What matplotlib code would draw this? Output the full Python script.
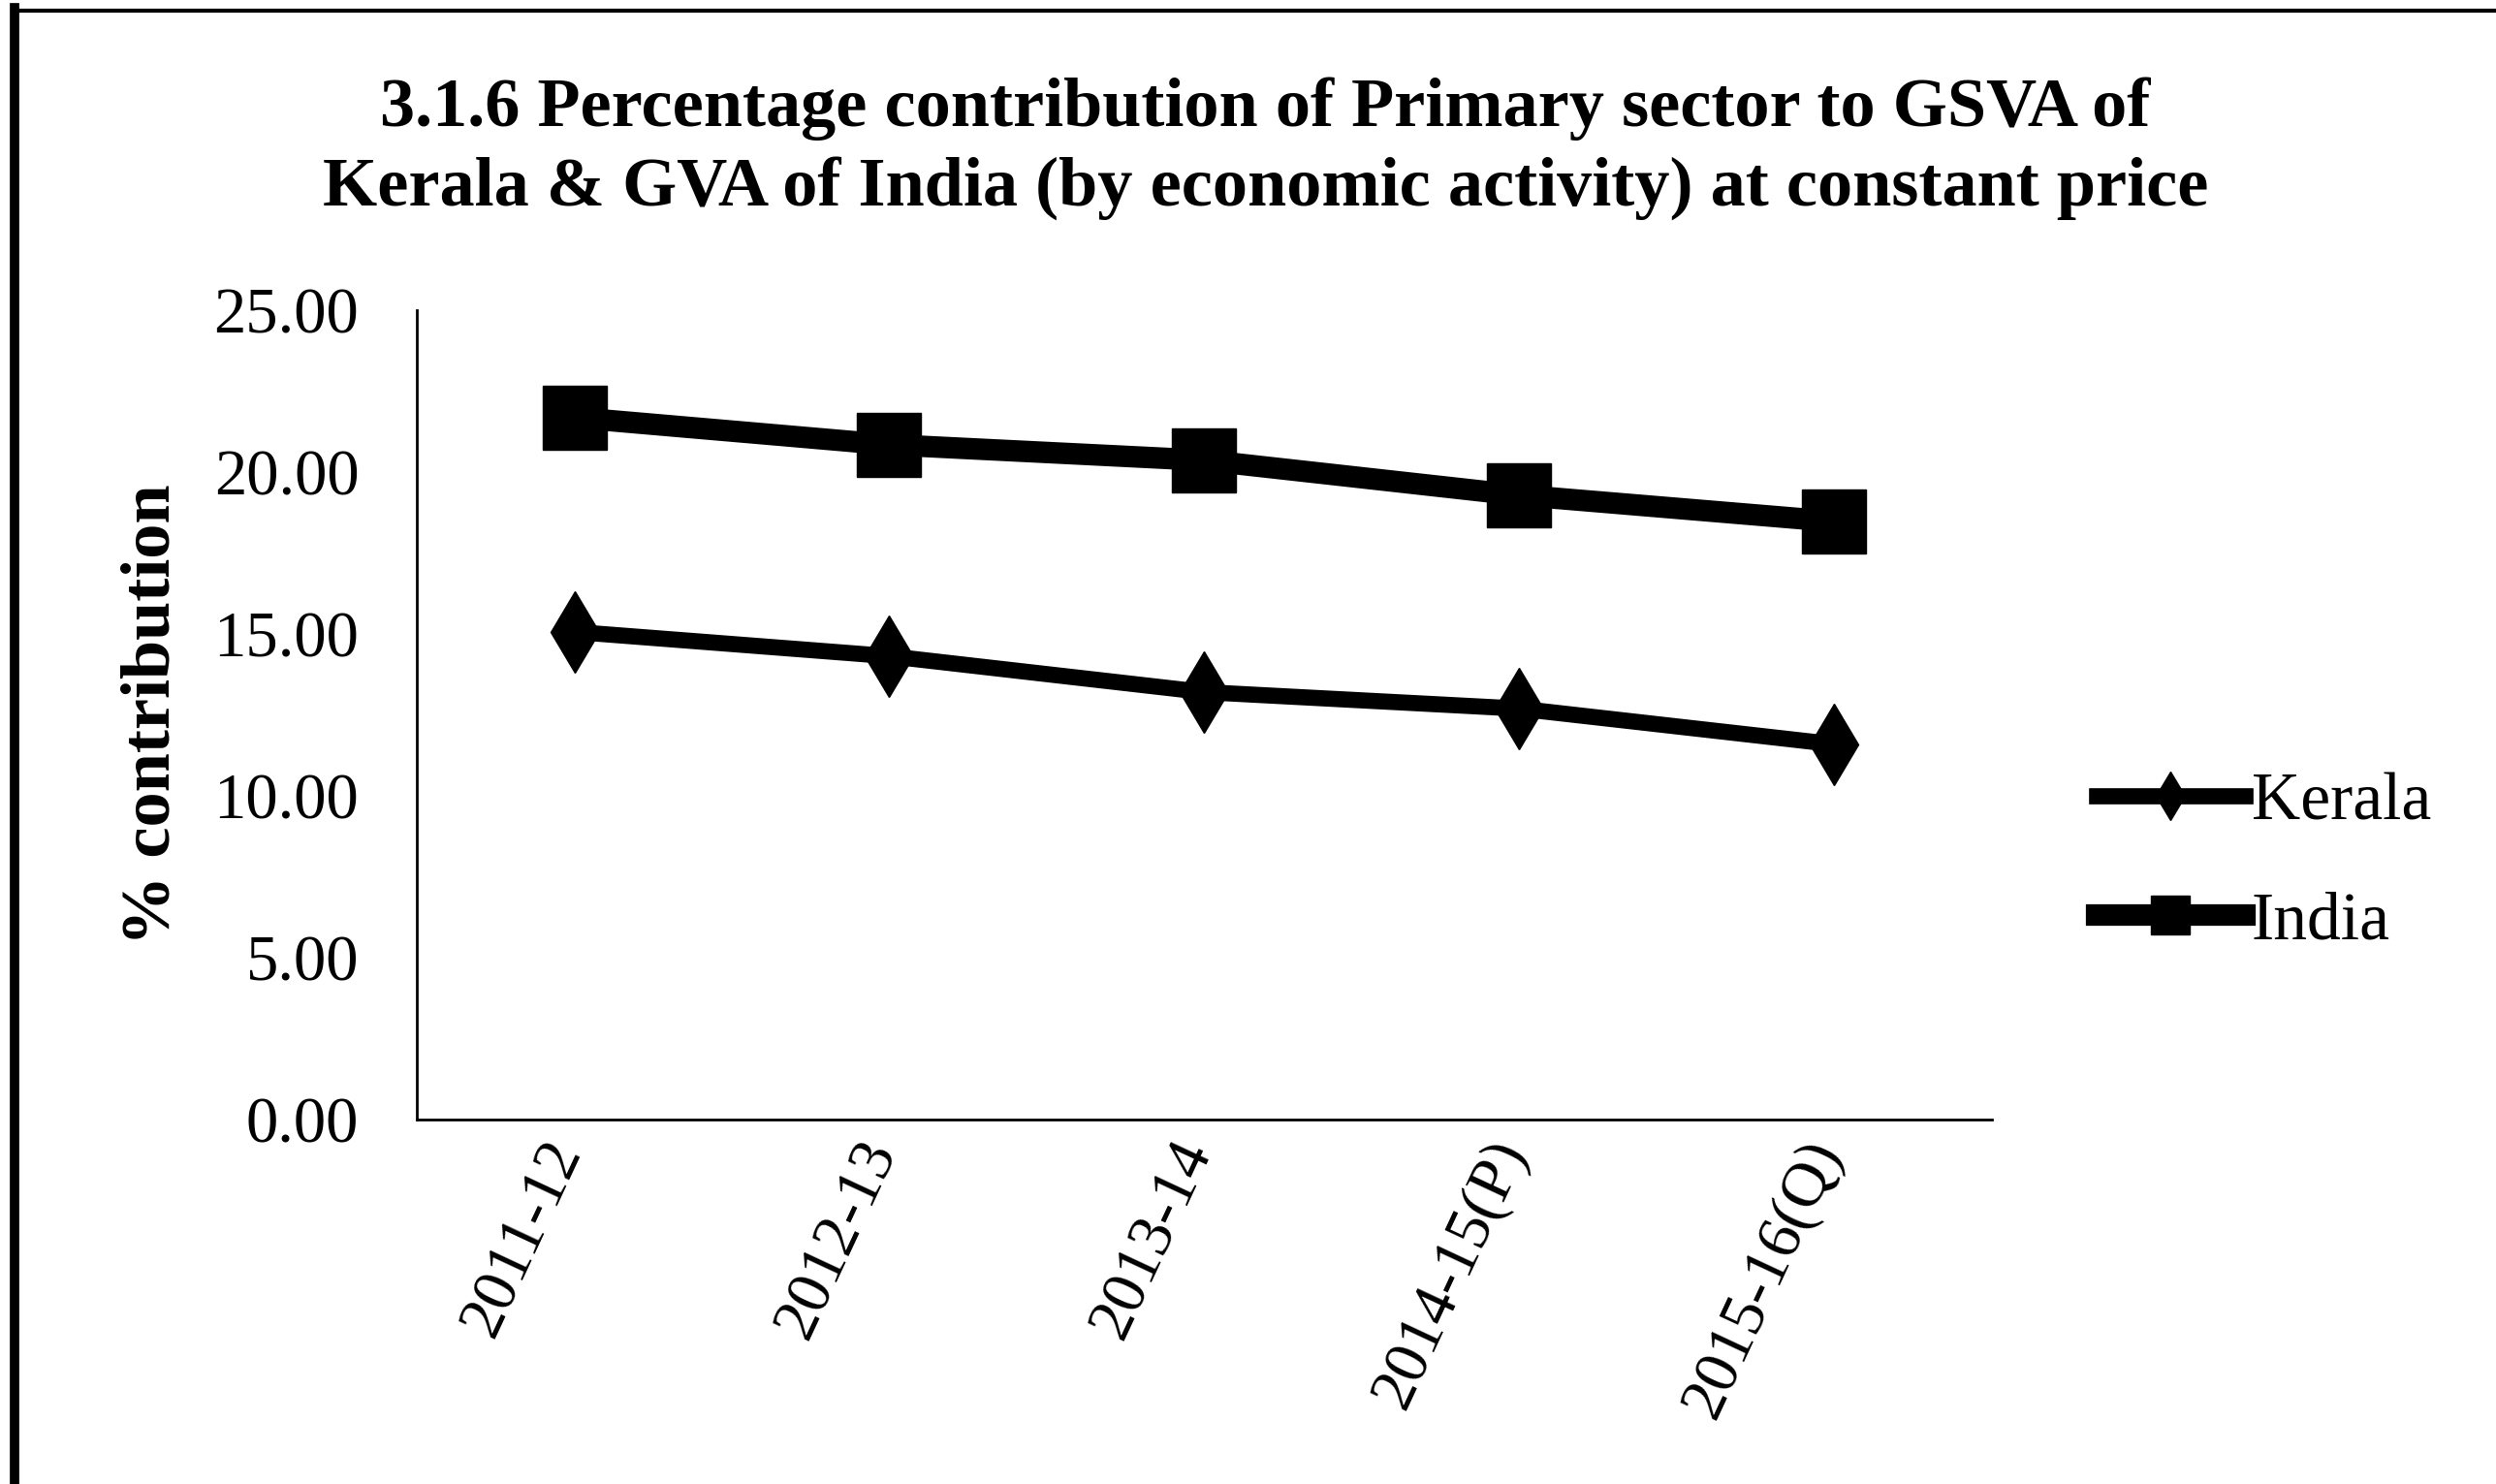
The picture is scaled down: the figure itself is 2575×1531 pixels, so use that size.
import matplotlib
matplotlib.use('Agg')
from matplotlib import pyplot as plt  # noqa
from matplotlib.lines import Line2D
from matplotlib.transforms import ScaledTranslation

YEARS = ['2011-12', '2012-13', '2013-14', '2014-15(P)', '2015-16(Q)']
KERALA = [15.06, 14.31, 13.20, 12.69, 11.59]
INDIA = [21.68, 20.84, 20.36, 19.28, 18.47]
Y_TICKS = [0, 5, 10, 15, 20, 25]

TITLE_1 = '3.1.6 Percentage contribution of Primary sector to GSVA of'
TITLE_2 = 'Kerala & GVA of India (by economic activity) at constant price'

plt.rcParams['font.family'] = ['Liberation Serif', 'DejaVu Serif']

fig = plt.figure(figsize=(25.75, 15.31), dpi=100)
ax = fig.add_axes([0.167, 0.2456, 0.631, 0.5455])

x = list(range(len(YEARS)))
ax.plot(x, KERALA, color='black', lw=12, marker='d', markersize=43,
        label='Kerala')
ax.plot(x, INDIA, color='black', lw=16, marker='s', markersize=48,
        label='India')

ax.set_xlim(-0.5, len(YEARS) - 0.5)
ax.set_ylim(0, 25)
ax.set_yticks(Y_TICKS)
ax.set_yticklabels(['{:.2f}'.format(v) for v in Y_TICKS], fontsize=48)
ax.set_xticks(x)
ax.set_xticklabels(YEARS, fontsize=47, rotation=65, ha='right',
                   va='center', rotation_mode='anchor')
ax.tick_params(axis='both', length=0)
ax.tick_params(axis='y', pad=43)
ax.tick_params(axis='x', pad=18)

# nudge the slanted year labels a little to the left
shift = ScaledTranslation(-8 / 100, 0, fig.dpi_scale_trans)
for lbl in ax.get_xticklabels():
    lbl.set_transform(lbl.get_transform() + shift)

for side in ['top', 'right']:
    ax.spines[side].set_visible(False)
for side in ['left', 'bottom']:
    ax.spines[side].set_linewidth(2)

ax.set_ylabel('% contribution', fontsize=52, fontweight='bold')
ax.yaxis.set_label_coords(-0.148, 0.5)

fig.text(0.507, 1 - 112 / 1531, TITLE_1, fontsize=52, fontweight='bold',
         ha='center', va='center')
fig.text(0.507, 1 - 194 / 1531, TITLE_2, fontsize=52, fontweight='bold',
         ha='center', va='center')

fig.legend(loc='center left', bbox_to_anchor=(0.840, 1 - 890 / 1531),
           frameon=False, fontsize=50, handlelength=2.2, handletextpad=0.1,
           labelspacing=0.85, borderpad=0, borderaxespad=0, markerscale=0.6)

# scanned page frame
fig.add_artist(Line2D([0.0058, 0.0058], [0, 0.995], color='black', lw=7,
                      transform=fig.transFigure))
fig.add_artist(Line2D([0.0058, 1], [0.993, 0.993], color='black', lw=3,
                      transform=fig.transFigure))

fig.savefig('out.png', dpi=100)
